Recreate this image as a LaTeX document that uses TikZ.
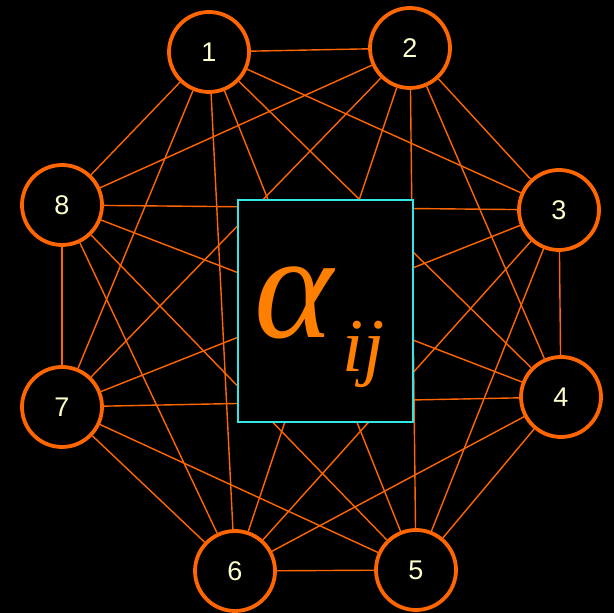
\documentclass[tikz,border=0pt]{standalone}
\usepackage{fontspec}
\setmainfont{Liberation Sans}
\newfontfamily\serifit{Liberation Serif}
\usetikzlibrary{backgrounds}
\definecolor{edgeorange}{HTML}{FF6600}
\definecolor{alphaorange}{HTML}{FF8000}
\definecolor{numcream}{HTML}{FFFFCC}
\definecolor{boxcyan}{HTML}{33E6E6}
\tikzset{
  vert/.style={circle, draw=edgeorange, line width=3.8pt, fill=black, minimum size=80pt, inner sep=0pt,
    text=numcream, font=\fontsize{27}{27}\selectfont},
  edge/.style={draw=edgeorange, line width=1.4pt},
  centerbox/.style={draw=boxcyan, line width=1.4pt, fill=black, minimum width=175pt, minimum height=222pt, inner sep=0pt},
}
\begin{document}
\begin{tikzpicture}[x=1pt,y=1pt]
\useasboundingbox (0,0) rectangle (614,613);
\node[vert] (n1) at (209,561) {1};
\node[vert] (n2) at (410,565) {2};
\node[vert] (n3) at (559,403) {3};
\node[vert] (n4) at (561,216) {4};
\node[vert] (n5) at (416,43) {5};
\node[vert] (n6) at (235,42) {6};
\node[vert] (n7) at (62,206) {7};
\node[vert] (n8) at (62,408) {8};
\node[centerbox] (box) at (325.5,302) {};
\node[anchor=base west, text=alphaorange, inner sep=0pt, font=\serifit\itshape\fontsize{150}{150}\selectfont] (alpha) at (254,275) {α};
\node[anchor=base west, text=alphaorange, inner sep=0pt, font=\serifit\itshape\fontsize{76}{76}\selectfont] (sub) at (342,241) {ij};
\begin{pgfonlayer}{background}
\fill[black] (0,0) rectangle (614,613);
\foreach \a/\b in {1/2,1/3,1/4,1/5,1/6,1/7,1/8,2/3,2/4,2/5,2/6,2/7,2/8,3/4,3/5,3/6,3/7,3/8,4/5,4/6,4/7,4/8,5/6,5/7,5/8,6/7,6/8,7/8}
  \draw[edge] (n\a) -- (n\b);
\end{pgfonlayer}
\end{tikzpicture}
\end{document}
